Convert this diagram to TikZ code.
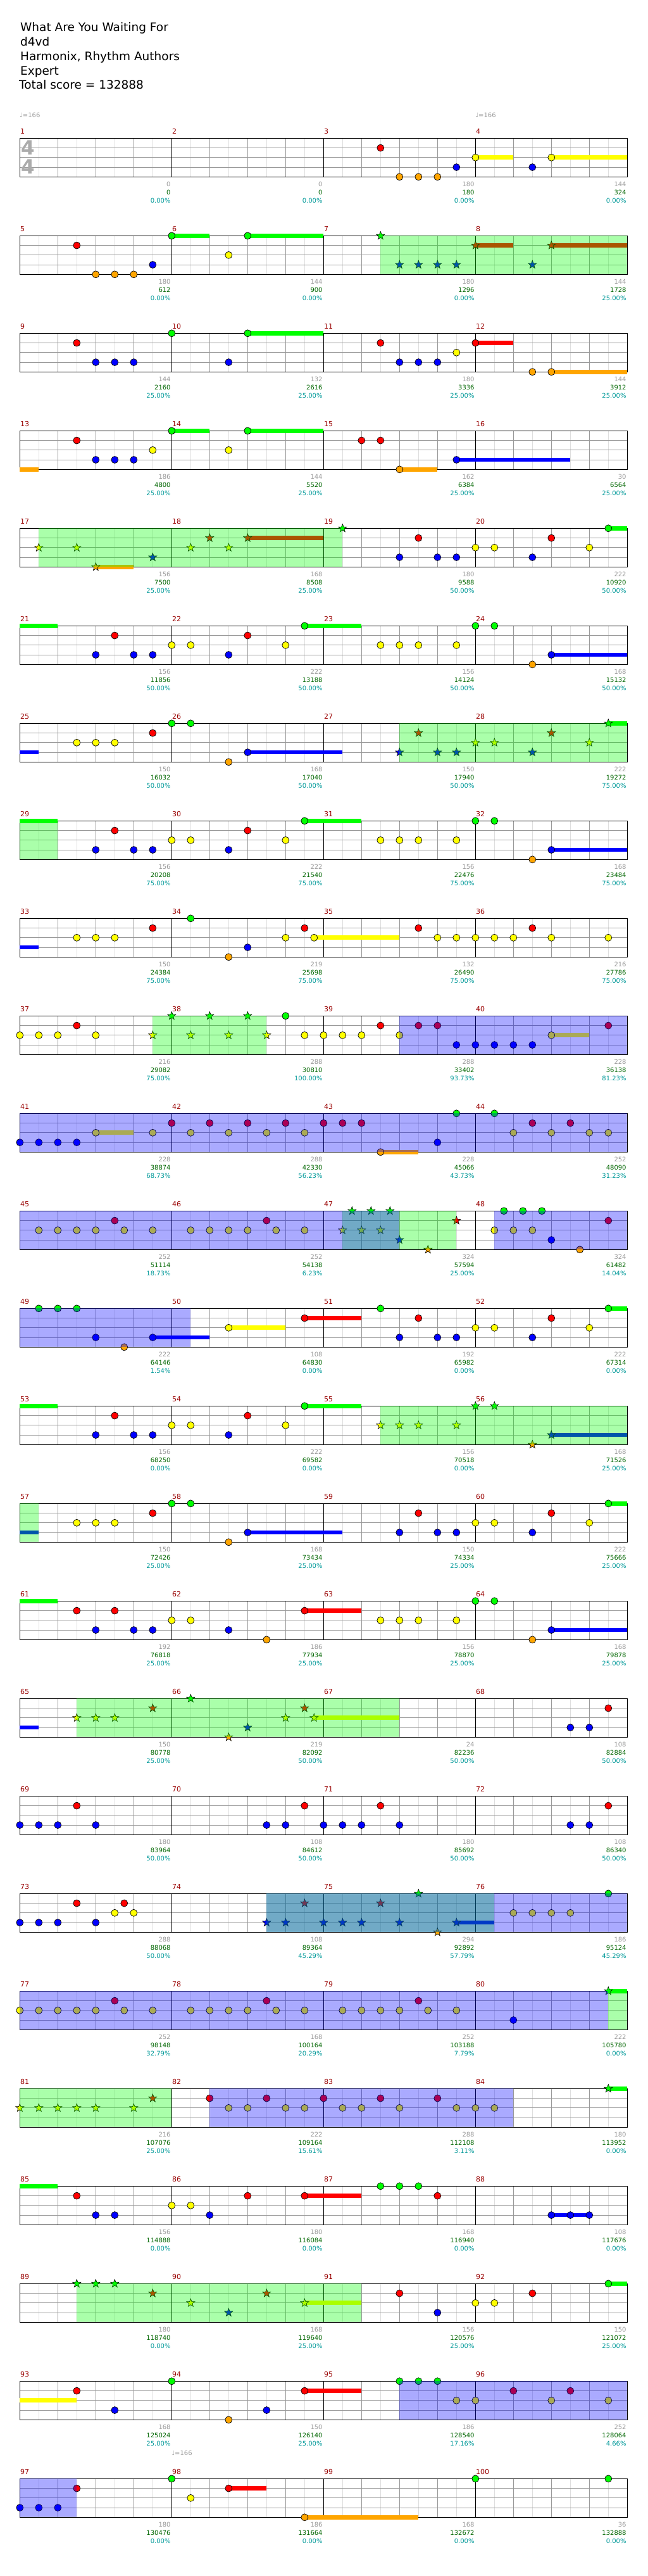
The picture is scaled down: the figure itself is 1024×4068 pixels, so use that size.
\documentclass[tikz,border=0pt]{standalone}
\usepackage{fontspec}
\setmainfont{DejaVu Sans}

\definecolor{lane0}{RGB}{0,255,0}
\definecolor{lane1}{RGB}{255,0,0}
\definecolor{lane2}{RGB}{255,255,0}
\definecolor{lane3}{RGB}{0,0,255}
\definecolor{lane4}{RGB}{255,165,0}
\definecolor{barred}{RGB}{153,0,0}
\definecolor{hitgray}{RGB}{153,153,153}
\definecolor{hitgreen}{RGB}{0,102,0}
\definecolor{hitteal}{RGB}{0,153,153}

% sustains, gems, star gems and phrase zones, one chart row at a time
\newcommand{\holds}[2]{\begin{scope}[rowat=#1]
  \foreach \from/\upto/\lane in {#2}
    \fill[fill=lane\lane] ({31.3+30*\from},{15.25*\lane-3.4}) rectangle ({31.3+30*\upto},{15.25*\lane+3.4});
  \end{scope}}
\newcommand{\gems}[2]{\begin{scope}[rowat=#1]
  \foreach \pos/\lane in {#2}
    \filldraw[gem,fill=lane\lane] ({31.3+30*\pos},{15.25*\lane}) circle[radius=5.5pt];
  \end{scope}}
\newcommand{\stargems}[2]{\begin{scope}[rowat=#1]
  \foreach \pos/\lane in {#2}
    \filldraw[stargem,fill=lane\lane,shift={({31.3+30*\pos},{15.25*\lane})}]
      (90:6.8pt) -- (126:2.8pt) -- (162:6.8pt) -- (198:2.8pt) -- (234:6.8pt) -- (270:2.8pt)
      -- (306:6.8pt) -- (342:2.8pt) -- (18:6.8pt) -- (54:2.8pt) -- cycle;
  \end{scope}}
\newcommand{\spzone}[2]{\begin{scope}[rowat=#1]
  \foreach \from/\upto in {#2} \fill[spfill] ({31.3+30*\from},0) rectangle ({31.3+30*\upto},61);
  \end{scope}}
\newcommand{\actzone}[2]{\begin{scope}[rowat=#1]
  \foreach \from/\upto in {#2} \fill[actfill] ({31.3+30*\from},0) rectangle ({31.3+30*\upto},61);
  \end{scope}}

\begin{document}
\begin{tikzpicture}[x=1pt,y=-1pt,
  rowat/.style={shift={(0,{218.3+154*#1})}},
  halfline/.style={draw=black!13,line width=0.8pt},
  beatline/.style={draw=black!40,line width=0.8pt},
  staffline/.style={draw=black,line width=1pt},
  gem/.style={draw=black,line width=0.7pt},
  stargem/.style={draw=black,line width=0.6pt},
  spfill/.style={fill=lane0,fill opacity=0.333},
  actfill/.style={fill=lane3,fill opacity=0.333},
  head/.style={anchor=base west,inner sep=0,font=\fontsize{18.5}{20}\selectfont},
  tempo/.style={anchor=base west,inner sep=0,text=hitgray,font=\fontsize{10}{11}\selectfont},
  timesig/.style={inner sep=0,text=black!33,font=\fontsize{31}{31}\selectfont\bfseries},
  barno/.style={anchor=base west,inner sep=0,text=barred,font=\fontsize{11}{12}\selectfont},
  hitval/.style={anchor=base east,inner sep=0,font=\fontsize{10}{11}\selectfont}]
\useasboundingbox (0,0) rectangle (1024,4068);
\fill[white] (0,0) rectangle (1024,4068);

\node[head] (title) at (32,50) {What Are You Waiting For};
\node[head] (artist) at (32,72.7) {d4vd};
\node[head] (charters) at (32,95.5) {Harmonix, Rhythm Authors};
\node[head] (level) at (32,118.3) {Expert};
\node[head] (total) at (30,141) {Total score = 132888};
\node[tempo] (bpmA) at (31,185.3) {♩=166};
\node[tempo] (bpmB) at (751.3,185.3) {♩=166};
\node[tempo] (bpmC) at (271.3,3877.3) {♩=166};

% staves
\foreach \r in {0,...,24}{
  \begin{scope}[rowat=\r]
    \foreach \pos in {1,3,...,31} \draw[halfline] ({31.3+30*\pos},0) -- ({31.3+30*\pos},61);
    \foreach \pos in {2,4,...,30} \draw[beatline] ({31.3+30*\pos},0) -- ({31.3+30*\pos},61);
    \foreach \lane in {1,2,3} \draw[beatline] (31.3,{15.25*\lane}) -- (991.3,{15.25*\lane});
    \foreach \c in {1,2,3} \draw[staffline] ({31.3+240*\c},0) -- ({31.3+240*\c},61);
    \draw[staffline] (31.3,0) rectangle (991.3,61);
    \foreach \c in {0,...,3}{
      \pgfmathtruncatemacro\mno{4*\r+\c+1}
      \node[barno] (bar\mno) at ({32+240*\c},-7.3) {\mno};}
  \end{scope}}
\node[timesig] (tsTop) at (44,233.5) {4};
\node[timesig] (tsBot) at (44,263.5) {4};

% sustains
\holds{0}{24/26/2,28/32/2}
\holds{1}{8/10/0,12/16/0,24/26/1,28/32/1}
\holds{2}{12/16/0,24/26/1,28/32/4}
\holds{3}{0/1/4,8/10/0,12/16/0,20/22/4,23/29/3}
\holds{4}{4/6/4,12/16/1,31/32/0}
\holds{5}{0/2/0,15/18/0,28/32/3}
\holds{6}{0/1/3,12/17/3,31/32/0}
\holds{7}{0/2/0,15/18/0,28/32/3}
\holds{8}{0/1/3,15.5/20/2}
\holds{9}{28/30/2}
\holds{10}{4/6/2,19/21/4}
\holds{12}{7/10/3,11/14/2,15/18/1,31/32/0}
\holds{13}{0/2/0,15/18/0,28/32/3}
\holds{14}{0/1/3,12/17/3,31/32/0}
\holds{15}{0/2/0,15/18/1,28/32/3}
\holds{16}{0/1/3,15.5/20/2}
\holds{18}{23/25/3}
\holds{19}{31/32/0}
\holds{20}{31/32/0}
\holds{21}{0/2/0,15/18/1,28/30/3}
\holds{22}{15/18/2,31/32/0}
\holds{23}{0/3/2,15/18/1}
\holds{24}{11/13/1,15/21/4}

% gems
\gems{0}{19/1,20/4,21/4,22/4,23/3,24/2,27/3,28/2}
\gems{1}{3/1,4/4,5/4,6/4,7/3,8/0,11/2,12/0}
\gems{2}{3/1,4/3,5/3,6/3,8/0,11/3,12/0,19/1,20/3,21/3,22/3,23/2,24/1,27/4,28/4}
\gems{3}{3/1,4/3,5/3,6/3,7/2,8/0,11/2,12/0,18/1,19/1,20/4,23/3}
\gems{4}{20/3,21/1,22/3,23/3,24/2,25/2,27/3,28/1,30/2,31/0}
\gems{5}{4/3,5/1,6/3,7/3,8/2,9/2,11/3,12/1,14/2,15/0,19/2,20/2,21/2,23/2,24/0,25/0,27/4,28/3}
\gems{6}{3/2,4/2,5/2,7/1,8/0,9/0,11/4,12/3}
\gems{7}{4/3,5/1,6/3,7/3,8/2,9/2,11/3,12/1,14/2,15/0,19/2,20/2,21/2,23/2,24/0,25/0,27/4,28/3}
\gems{8}{3/2,4/2,5/2,7/1,9/0,11/4,12/3,14/2,15/1,15.5/2,21/1,22/2,23/2,24/2,25/2,26/2,27/1,28/2,31/2}
\gems{9}{0/2,1/2,2/2,3/1,4/2,14/0,15/2,16/2,17/2,18/2,19/1,20/2,21/1,22/1,23/3,24/3,25/3,26/3,27/3,28/2,31/1}
\gems{10}{0/3,1/3,2/3,3/3,4/2,7/2,8/1,9/2,10/1,11/2,12/1,13/2,14/1,15/2,16/1,17/1,18/1,19/4,22/3,23/0,25/0,26/2,27/1,28/2,29/1,30/2,31/2}
\gems{11}{1/2,2/2,3/2,4/2,5/1,5.5/2,7/2,9/2,10/2,11/2,12/2,13/1,13.5/2,15/2,25/2,25.5/0,26.5/0,27.5/0,26/2,27/2,28/3,29.5/4,31/1}
\gems{12}{1/0,2/0,3/0,4/3,5.5/4,7/3,11/2,15/1,19/0,20/3,21/1,22/3,23/3,24/2,25/2,27/3,28/1,30/2,31/0}
\gems{13}{4/3,5/1,6/3,7/3,8/2,9/2,11/3,12/1,14/2,15/0}
\gems{14}{3/2,4/2,5/2,7/1,8/0,9/0,11/4,12/3,20/3,21/1,22/3,23/3,24/2,25/2,27/3,28/1,30/2,31/0}
\gems{15}{3/1,4/3,5/1,6/3,7/3,8/2,9/2,11/3,13/4,15/1,19/2,20/2,21/2,23/2,24/0,25/0,27/4,28/3}
\gems{16}{29/3,30/3,31/1}
\gems{17}{0/3,1/3,2/3,3/1,4/3,13/3,14/3,15/1,16/3,17/3,18/3,19/1,20/3,29/3,30/3,31/1}
\gems{18}{0/3,1/3,2/3,3/1,4/3,5/2,5.5/1,6/2,26/2,27/2,28/2,29/2,31/0}
\gems{19}{0/2,1/2,2/2,3/2,4/2,5/1,5.5/2,7/2,9/2,10/2,11/2,12/2,13/1,13.5/2,15/2,17/2,18/2,19/2,20/2,21/1,21.5/2,23/2,26/3}
\gems{20}{10/1,11/2,12/2,13/1,14/2,15/2,16/1,17/2,18/2,19/1,20/2,22/1,23/2,24/2,25/2}
\gems{21}{3/1,4/3,5/3,8/2,9/2,10/3,12/1,15/1,19/0,20/0,21/0,22/1,28/3,29/3,30/3}
\gems{22}{20/1,22/3,24/2,25/2,27/1,31/0}
\gems{23}{3/1,5/3,8/0,11/4,13/3,15/1,20/0,21/0,22/0,23/2,24/2,26/1,28/2,29/1,31/2}
\gems{24}{0/3,1/3,2/3,3/1,8/0,9/2,11/1,15/4,24/0,31/0}

% star gems
\stargems{1}{19/0,20/3,21/3,22/3,23/3,24/1,27/3,28/1}
\stargems{4}{1/2,3/2,4/4,7/3,9/2,10/1,11/2,12/1,17/0}
\stargems{6}{20/3,21/1,22/3,23/3,24/2,25/2,27/3,28/1,30/2,31/0}
\stargems{9}{7/2,8/0,9/2,10/0,11/2,12/0,13/2}
\stargems{11}{17/2,17.5/0,18/2,18.5/0,19/2,19.5/0,20/3,21.5/4,23/1}
\stargems{13}{19/2,20/2,21/2,23/2,24/0,25/0,27/4,28/3}
\stargems{16}{3/2,4/2,5/2,7/1,9/0,11/4,12/3,14/2,15/1,15.5/2}
\stargems{18}{13/3,14/3,15/1,16/3,17/3,18/3,19/1,20/3,21/0,22/4,23/3}
\stargems{19}{31/0}
\stargems{20}{0/2,1/2,2/2,3/2,4/2,6/2,7/1,31/0}
\stargems{22}{3/0,4/0,5/0,7/1,9/2,11/3,13/1,15/2}

% star power and activation zones
\spzone{1}{19/32}
\spzone{4}{1/17}
\spzone{6}{20/32}
\spzone{7}{0/2}
\spzone{9}{7/13}
\spzone{11}{17/23}
\spzone{13}{19/32}
\spzone{14}{0/1}
\spzone{16}{3/20}
\spzone{18}{13/25}
\spzone{19}{31/32}
\spzone{20}{0/8}
\spzone{22}{3/18}
\actzone{9}{20/32}
\actzone{10}{0/32}
\actzone{11}{0/20,25/32}
\actzone{12}{0/9}
\actzone{18}{13/32}
\actzone{19}{0/31}
\actzone{20}{10/26}
\actzone{23}{20/32}
\actzone{24}{0/3}

% measure scores
\foreach \mno/\ga/\gb/\pc in {1/0/0/0.00,2/0/0/0.00,3/180/180/0.00,4/144/324/0.00,
  5/180/612/0.00,6/144/900/0.00,7/180/1296/0.00,8/144/1728/25.00,
  9/144/2160/25.00,10/132/2616/25.00,11/180/3336/25.00,12/144/3912/25.00,
  13/186/4800/25.00,14/144/5520/25.00,15/162/6384/25.00,16/30/6564/25.00,
  17/156/7500/25.00,18/168/8508/25.00,19/180/9588/50.00,20/222/10920/50.00,
  21/156/11856/50.00,22/222/13188/50.00,23/156/14124/50.00,24/168/15132/50.00,
  25/150/16032/50.00,26/168/17040/50.00,27/150/17940/50.00,28/222/19272/75.00,
  29/156/20208/75.00,30/222/21540/75.00,31/156/22476/75.00,32/168/23484/75.00,
  33/150/24384/75.00,34/219/25698/75.00,35/132/26490/75.00,36/216/27786/75.00,
  37/216/29082/75.00,38/288/30810/100.00,39/288/33402/93.73,40/228/36138/81.23,
  41/228/38874/68.73,42/288/42330/56.23,43/228/45066/43.73,44/252/48090/31.23,
  45/252/51114/18.73,46/252/54138/6.23,47/324/57594/25.00,48/324/61482/14.04,
  49/222/64146/1.54,50/108/64830/0.00,51/192/65982/0.00,52/222/67314/0.00,
  53/156/68250/0.00,54/222/69582/0.00,55/156/70518/0.00,56/168/71526/25.00,
  57/150/72426/25.00,58/168/73434/25.00,59/150/74334/25.00,60/222/75666/25.00,
  61/192/76818/25.00,62/186/77934/25.00,63/156/78870/25.00,64/168/79878/25.00,
  65/150/80778/25.00,66/219/82092/50.00,67/24/82236/50.00,68/108/82884/50.00,
  69/180/83964/50.00,70/108/84612/50.00,71/180/85692/50.00,72/108/86340/50.00,
  73/288/88068/50.00,74/108/89364/45.29,75/294/92892/57.79,76/186/95124/45.29,
  77/252/98148/32.79,78/168/100164/20.29,79/252/103188/7.79,80/222/105780/0.00,
  81/216/107076/25.00,82/222/109164/15.61,83/288/112108/3.11,84/180/113952/0.00,
  85/156/114888/0.00,86/180/116084/0.00,87/168/116940/0.00,88/108/117676/0.00,
  89/180/118740/0.00,90/168/119640/25.00,91/156/120576/25.00,92/150/121072/25.00,
  93/168/125024/25.00,94/150/126140/25.00,95/186/128540/17.16,96/252/128064/4.66,
  97/180/130476/0.00,98/186/131664/0.00,99/168/132672/0.00,100/36/132888/0.00}{
  \pgfmathtruncatemacro\rw{(\mno-1)/4}
  \pgfmathsetmacro\ex{31.3+240*(\mno-4*\rw)-1.5}
  \pgfmathsetmacro\ey{218.3+154*\rw}
  \node[hitval,text=hitgray] (hit\mno) at (\ex,{\ey+76.4}) {\ga};
  \node[hitval,text=hitgreen] (sum\mno) at (\ex,{\ey+89}) {\gb};
  \node[hitval,text=hitteal] (pct\mno) at (\ex,{\ey+101.7}) {\pc\%};
}
\end{tikzpicture}
\end{document}
